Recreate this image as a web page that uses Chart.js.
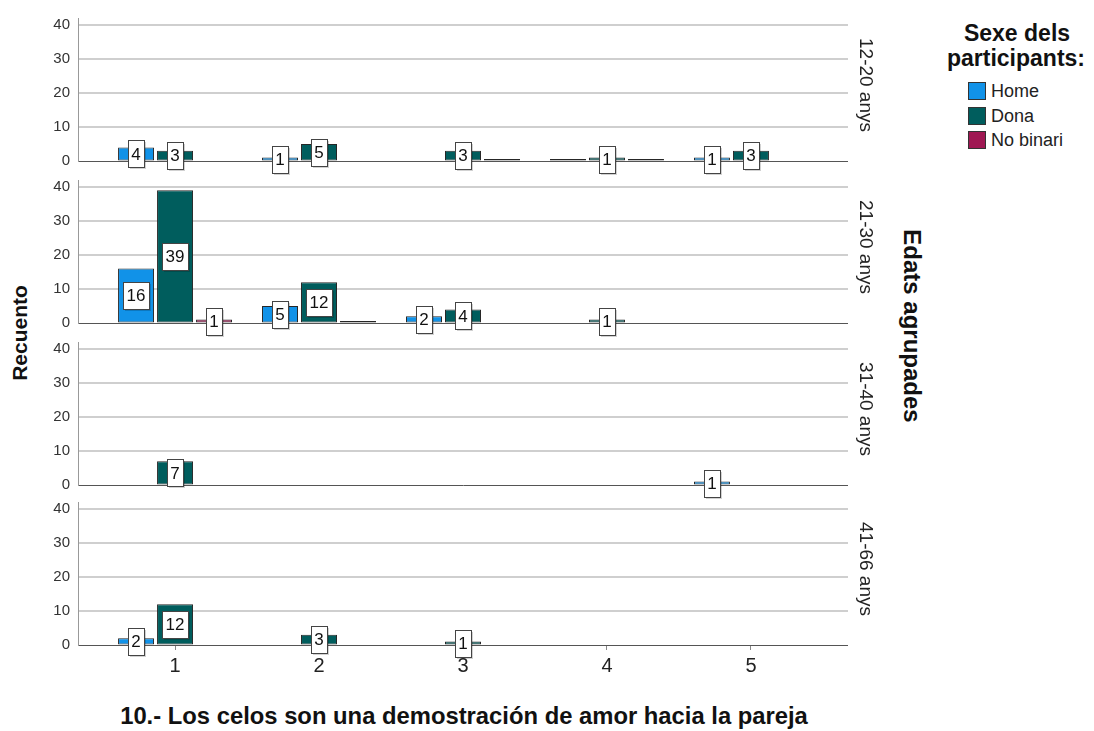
<!DOCTYPE html>
<html>
<head>
<meta charset="utf-8">
<script src="https://cdn.jsdelivr.net/npm/chart.js@4.4.0/dist/chart.umd.min.js"></script>
<style>
body { margin:0; background:#fff; width:1094px; height:731px; position:relative; overflow:hidden;
       font-family:"Liberation Sans", Arial, sans-serif; color:#111; }
.panel { position:absolute; left:0; width:870px; }
.txt { position:absolute; white-space:nowrap; transform:translate(-50%,-50%); }
.bold { font-weight:bold; }
.sw { position:absolute; width:16px; height:16px; border:1px solid #333; }
.item { position:absolute; font-size:18px; color:#222; }
</style>
</head>
<body>

<div class="txt bold" style="left:20px; top:333px; font-size:21px; transform:translate(-50%,-50%) rotate(-90deg);">Recuento</div>
<div class="txt bold" style="left:912px; top:326px; font-size:24px; transform:translate(-50%,-50%) rotate(90deg);">Edats agrupades</div>
<div class="txt bold" style="left:464px; top:716px; font-size:23.8px;">10.- Los celos son una demostración de amor hacia la pareja</div>

<div class="txt bold" style="left:1017px; top:33px; font-size:23px;">Sexe dels</div>
<div class="txt bold" style="left:1016px; top:58px; font-size:23px;">participants:</div>
<div id="legend"></div>

<script>
// eixos i sèries
const categories = ['1', '2', '3', '4', '5'];
const ageGroups = ['12-20 anys', '21-30 anys', '31-40 anys', '41-66 anys'];
const seriesNames = ['Home', 'Dona', 'No binari'];
const seriesColors = ['#1192e8', '#005d5d', '#9f1853'];

// recomptes per grup d'edat (null = sense barra)
const home1220  = [4, 1, null, 0, 1];
const dona1220  = [3, 5, 3, 1, 3];
const nobin1220 = [null, null, 0, 0, null];

const home2130  = [16, 5, 2, null, null];
const dona2130  = [39, 12, 4, 1, null];
const nobin2130 = [1, 0, null, null, null];

const home3140  = [null, null, null, null, 1];
const dona3140  = [7, null, null, null, null];
const nobin3140 = [null, null, null, null, null];

const home4166  = [2, null, null, null, null];
const dona4166  = [12, 3, 1, null, null];
const nobin4166 = [null, null, null, null, null];

const rows = [
  [home1220, dona1220, nobin1220],
  [home2130, dona2130, nobin2130],
  [home3140, dona3140, nobin3140],
  [home4166, dona4166, nobin4166]
];

const zeroY = [161, 323, 485, 645];

Chart.defaults.font.family = '"Liberation Sans", Arial, sans-serif';

// etiquetes en caixa blanca al centre de cada barra
const boxLabels = {
  id: 'boxLabels',
  afterDatasetsDraw(chart) {
    const ctx = chart.ctx;
    ctx.save();
    ctx.font = '17px "Liberation Sans", Arial, sans-serif';
    ctx.textAlign = 'center';
    ctx.textBaseline = 'middle';
    chart.data.datasets.forEach((ds, di) => {
      chart.getDatasetMeta(di).data.forEach((el, i) => {
        const v = ds.data[i].y;
        if (!v) return;
        const t = String(v);
        const cy = (el.y + el.base) / 2;
        const w = Math.round(ctx.measureText(t).width + 7), h = 27;
        const x0 = Math.round(el.x - w / 2) + 0.5, y0 = Math.round(cy - h / 2) + 0.5;
        ctx.fillStyle = 'rgba(0,0,0,0.18)';
        ctx.fillRect(x0 + 1.5, y0 + 1.5, w, h);
        ctx.fillStyle = '#fff';
        ctx.fillRect(x0, y0, w, h);
        ctx.strokeStyle = '#444';
        ctx.lineWidth = 1;
        ctx.strokeRect(x0, y0, w, h);
        ctx.fillStyle = '#111';
        ctx.fillText(t, el.x, cy + 1);
      });
    });
    ctx.restore();
  }
};

function makePanel(r) {
  const last = r === rows.length - 1;
  const wrap = document.createElement('div');
  wrap.className = 'panel';
  wrap.style.top = (zeroY[r] - 160) + 'px';
  wrap.style.height = (last ? 200 : 178) + 'px';
  const cv = document.createElement('canvas');
  wrap.appendChild(cv);
  document.body.appendChild(wrap);

  new Chart(cv, {
    type: 'bar',
    data: {
      datasets: seriesNames.map((name, s) => ({
        label: name,
        data: rows[r][s].map((v, i) => v === null ? null : { x: i + 1, y: v }).filter(Boolean),
        backgroundColor: seriesColors[s],
        borderColor: '#262626',
        borderWidth: 1,
        borderSkipped: false,
        minBarLength: 2,
        categoryPercentage: 0.8125,
        barPercentage: 0.923
      }))
    },
    options: {
      responsive: true,
      maintainAspectRatio: false,
      animation: false,
      layout: { padding: { top: 8, right: 22, bottom: last ? 4 : 18, left: 0 } },
      plugins: { legend: { display: false }, tooltip: { enabled: false } },
      scales: {
        x: {
          type: 'linear',
          offset: false,
          min: 0.326,
          max: 5.674,
          display: last,
          ticks: {
            stepSize: 1,
            includeBounds: false,
            color: '#222',
            font: { size: 20 },
            padding: 4,
            maxRotation: 0,
            callback: v => Number.isInteger(v) ? categories[v - 1] : ''
          },
          grid: { display: true, offset: false, drawOnChartArea: false, tickLength: 5, color: '#888' },
          border: { display: false },
          afterFit: s => { if (last) s.height = 36; }
        },
        y: {
          min: 0,
          max: 42,
          ticks: { stepSize: 10, includeBounds: false, color: '#333', font: { size: 15 }, padding: 8 },
          grid: {
            drawTicks: false,
            color: c => c.tick.value === 0 ? '#555' : '#cfcfcf',
            lineWidth: c => c.tick.value === 0 ? 1 : 2
          },
          border: { display: true, color: '#999' },
          afterFit: s => { s.width = 78; }
        }
      }
    },
    plugins: [boxLabels]
  });

  // etiqueta del grup d'edat a la dreta
  const lab = document.createElement('div');
  lab.className = 'txt';
  lab.style.left = '866px';
  lab.style.top = (zeroY[r] - 76) + 'px';
  lab.style.fontSize = '19px';
  lab.style.color = '#222';
  lab.style.transform = 'translate(-50%,-50%) rotate(90deg)';
  lab.textContent = ageGroups[r];
  document.body.appendChild(lab);
}

rows.forEach((_, r) => makePanel(r));

// llegenda
const legend = document.getElementById('legend');
seriesNames.forEach((name, s) => {
  const y = 82 + s * 24.5;
  const sw = document.createElement('div');
  sw.className = 'sw';
  sw.style.left = '968px';
  sw.style.top = y + 'px';
  sw.style.background = seriesColors[s];
  legend.appendChild(sw);
  const it = document.createElement('div');
  it.className = 'item';
  it.style.left = '991px';
  it.style.top = (y - 1) + 'px';
  it.textContent = name;
  legend.appendChild(it);
});
</script>
</body>
</html>
